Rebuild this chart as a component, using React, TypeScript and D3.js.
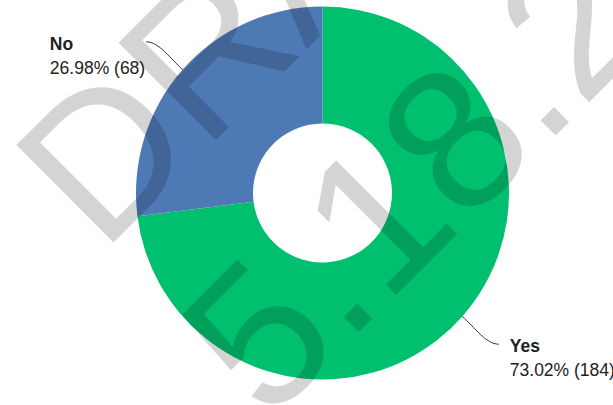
import React, { useEffect, useRef } from "react";
import * as d3 from "d3";

const categories: string[] = ["Yes", "No"];
const values: number[] = [184, 68];
const colors: string[] = ["#00c06f", "#4d7ab5"];
const watermarkLines: string[] = ["DRAFT", "5.18.2024"];

const W = 613;
const H = 405;

export default function App() {
  const ref = useRef<SVGSVGElement | null>(null);

  useEffect(() => {
    const svg = d3.select(ref.current);
    svg.selectAll("*").remove();

    const cx = 322.5;
    const cy = 193;
    const R = 186.5;
    const r = 69.5;
    const total = d3.sum(values);

    const data = categories.map((c, i) => ({ c, v: values[i], color: colors[i] }));
    const pie = d3.pie<any>().sort(null).value((d: any) => d.v);
    const arcs = pie(data);
    const arcGen = d3.arc<any>().innerRadius(r).outerRadius(R);

    const g = svg.append("g").attr("transform", `translate(${cx},${cy})`);
    g.selectAll("path.slice")
      .data(arcs)
      .enter()
      .append("path")
      .attr("class", "slice")
      .attr("d", arcGen as any)
      .attr("fill", (d: any) => d.data.color);

    const polar = (rad: number, a: number): [number, number] => [
      Math.sin(a) * rad,
      -Math.cos(a) * rad,
    ];

    const fmt = d3.format(".2f");

    arcs.forEach((d: any) => {
      const a = (d.startAngle + d.endAngle) / 2;
      const side = Math.sin(a) >= 0 ? 1 : -1;
      const p0 = polar(R, a);
      const p1 = polar(R + 16, a);
      const q = polar(R + 42, a);
      const p3: [number, number] = [q[0] + side * 5, q[1]];
      const p2: [number, number] = [p3[0] - side * 13, p3[1]];
      const path = d3.path();
      path.moveTo(p0[0], p0[1]);
      path.bezierCurveTo(p1[0], p1[1], p2[0], p2[1], p3[0], p3[1]);
      g.append("path")
        .attr("d", path.toString())
        .attr("fill", "none")
        .attr("stroke", "#333")
        .attr("stroke-width", 1);

      const t = g
        .append("text")
        .attr("font-family", "'Liberation Sans', Arial, sans-serif")
        .attr("font-size", 17.5)
        .attr("fill", "#222");
      const l1 = t
        .append("tspan")
        .attr("font-weight", "bold")
        .attr("y", p3[1] + 8)
        .text(d.data.c);
      const l2 = t
        .append("tspan")
        .attr("y", p3[1] + 32)
        .text(`${fmt((d.data.v / total) * 100)}% (${d.data.v})`);
      let x = p3[0] + 11;
      if (side < 0) {
        const w = Math.max(
          (l1.node() as any).getComputedTextLength(),
          (l2.node() as any).getComputedTextLength()
        );
        x = p3[0] - 1 - w;
      }
      l1.attr("x", x);
      l2.attr("x", x);
    });

    const wm = svg
      .append("text")
      .attr("transform", "translate(102,254) rotate(-45)")
      .attr("font-family", "'Liberation Sans', Arial, sans-serif")
      .attr("font-size", 200)
      .attr("fill", "#000")
      .attr("fill-opacity", 0.17);
    watermarkLines.forEach((s, i) => {
      wm.append("tspan").attr("x", i === 0 ? 0 : -3).attr("y", i * 237).text(s);
    });
  }, []);

  return (
    <svg
      ref={ref}
      width={W}
      height={H}
      style={{ position: "fixed", left: 0, top: 0, background: "#fff" }}
    />
  );
}
